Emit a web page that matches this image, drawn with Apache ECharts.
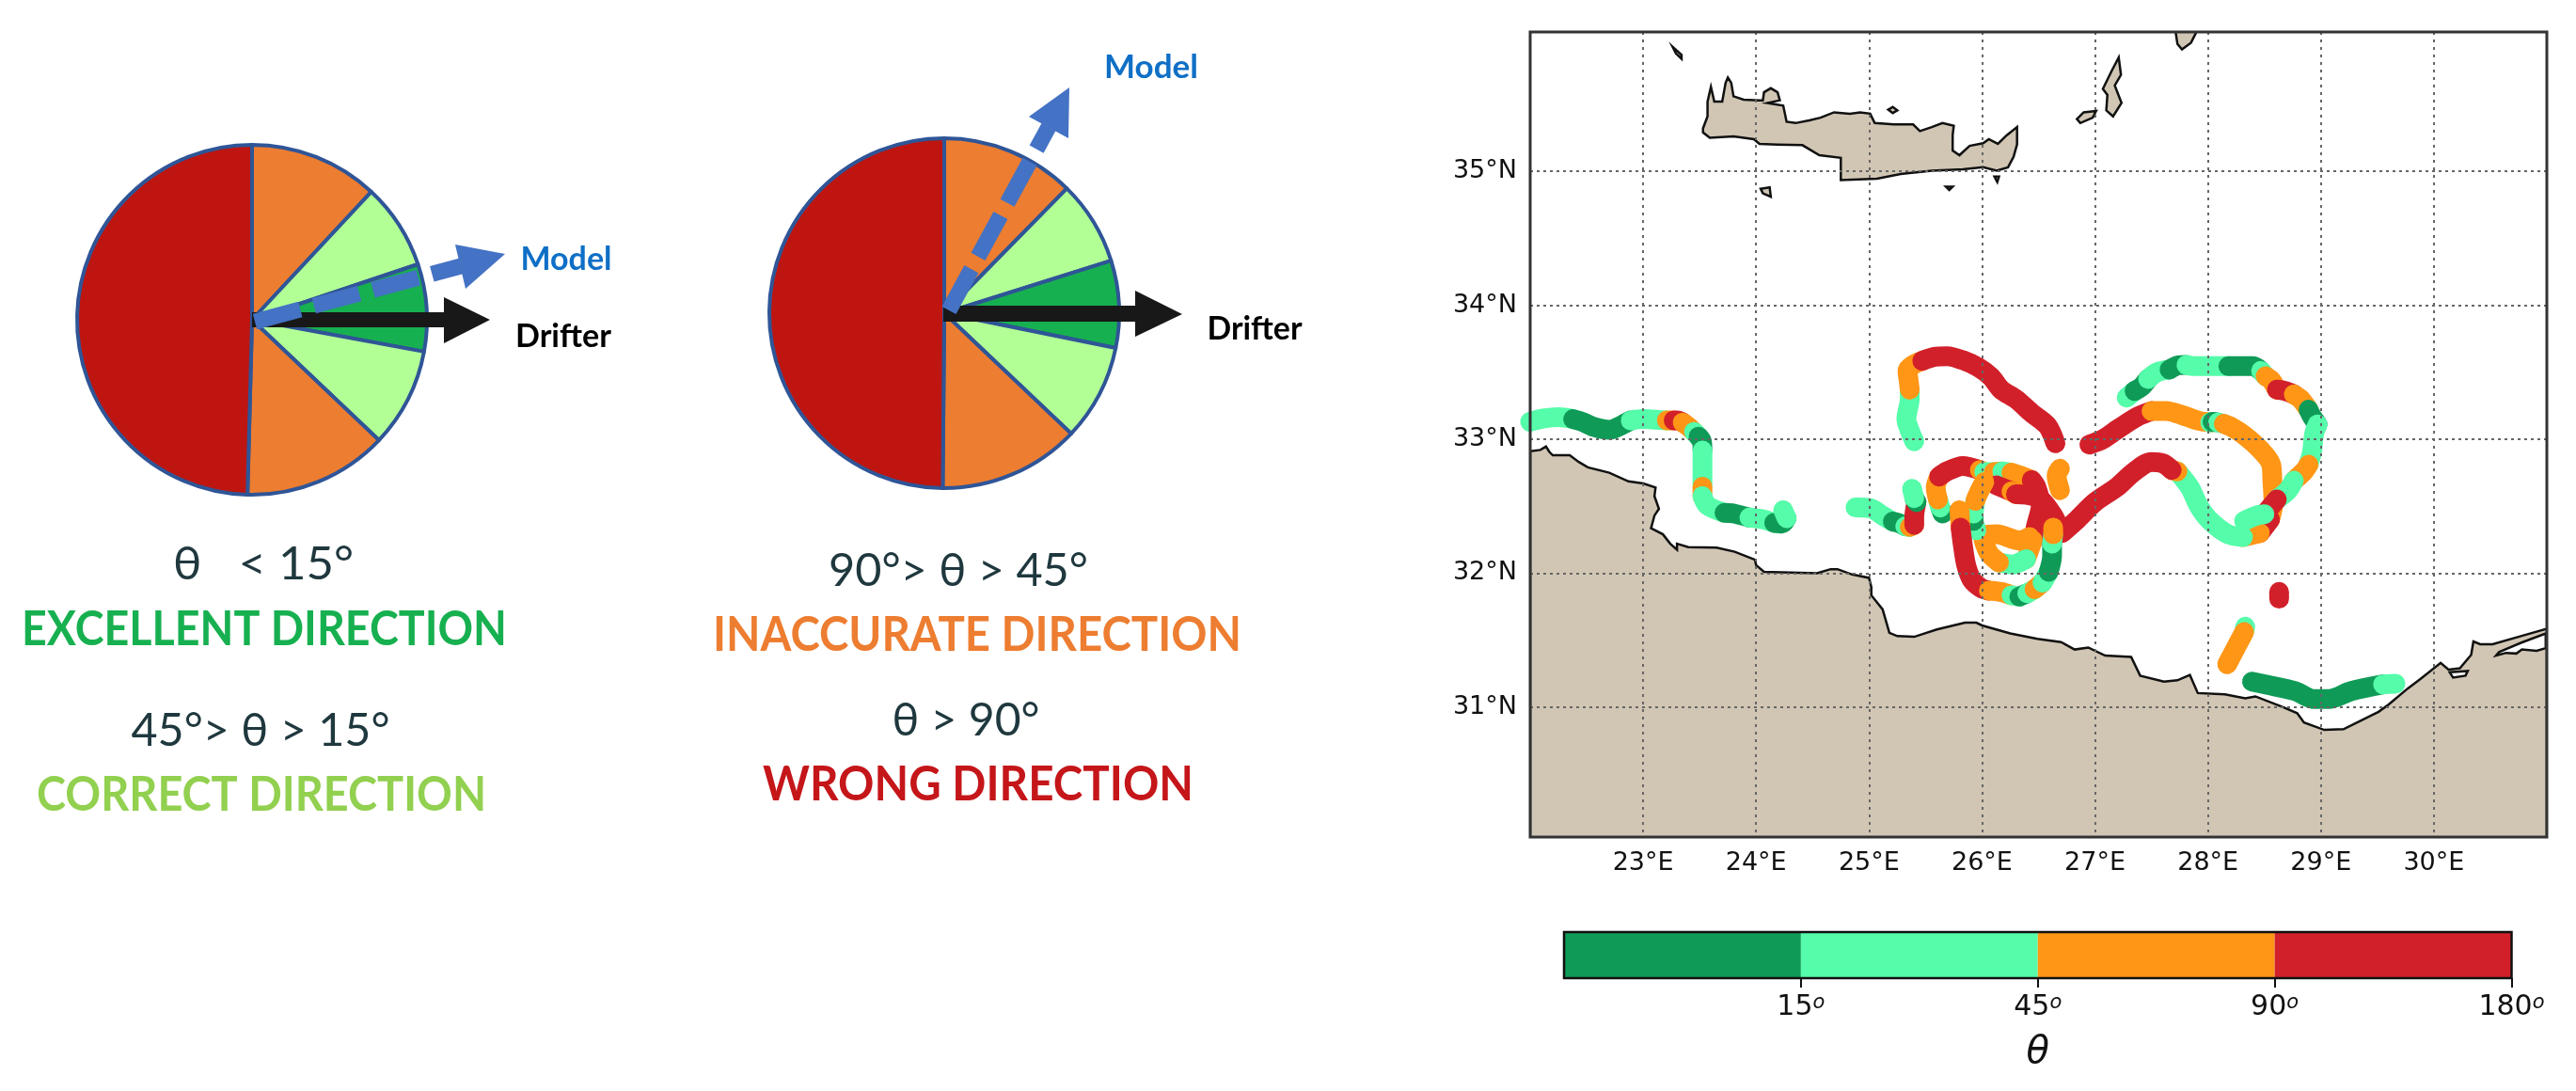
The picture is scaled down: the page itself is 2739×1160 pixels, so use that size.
<!DOCTYPE html>
<html>
<head>
<meta charset="utf-8">
<title>Drifter vs model direction</title>
<script src="https://cdn.jsdelivr.net/npm/echarts@6/dist/echarts.min.js"></script>
<style>
  html, body { margin: 0; background: #fff; }
  #main { width: 2739px; height: 1160px; }
</style>
</head>
<body>
<div id="main"></div>
<script>
// direction classes, same order as the colour bar
const G = 0, M = 1, O = 2, R = 3;
const binColors = ['#0F9B57', '#55FCAA', '#FF9616', '#D2202A'];
const binTicks = ['15', '45', '90', '180'];
const binWidths = [1, 1, 1, 1];

// map ticks
const lonTicks = [23, 24, 25, 26, 27, 28, 29, 30];
const latTicks = [31, 32, 33, 34, 35];

// pie slices (degrees, clockwise from north)
const sliceColors = ['#ED7D31', '#B2FF96', '#17B050', '#B2FF96', '#ED7D31', '#BE1510'];
const pieLeft = [43, 28.5, 29, 33, 48, 178.5];
const pieRight = [44.5, 28, 29, 32, 47, 179.5];

// coast lines, lon / lat
const africa = [[22,32.91],[22.09,32.92],[22.14,32.945],[22.17,32.905],[22.2,32.88],[22.35,32.88],[22.43,32.83],[22.51,32.79],[22.7,32.75],[22.87,32.685],[23,32.67],[23.11,32.64],[23.1,32.575],[23.14,32.48],[23.1,32.43],[23.07,32.335],[23.175,32.29],[23.24,32.22],[23.3,32.175],[23.3,32.22],[23.4,32.195],[23.65,32.19],[23.81,32.16],[23.99,32.1],[24,32.06],[24.07,32.01],[24.54,32],[24.66,32.03],[24.72,32.03],[24.85,31.99],[25,31.965],[25.02,31.895],[25.02,31.835],[25.12,31.73],[25.18,31.555],[25.25,31.53],[25.4,31.525],[25.6,31.58],[25.85,31.63],[25.95,31.63],[26,31.61],[26.25,31.55],[26.49,31.51],[26.7,31.485],[26.82,31.43],[26.94,31.445],[27.09,31.385],[27.32,31.375],[27.4,31.235],[27.61,31.19],[27.73,31.2],[27.84,31.24],[27.91,31.105],[28.15,31.095],[28.33,31.065],[28.42,31.08],[28.665,31],[28.79,30.955],[28.85,30.885],[29.03,30.83],[29.2,30.835],[29.51,30.965],[29.6,31.02],[29.77,31.14],[29.88,31.21],[30.06,31.33],[30.13,31.28],[30.23,31.29],[30.33,31.39],[30.35,31.49],[30.41,31.47],[30.52,31.47],[30.77,31.53],[31,31.585],[31,30],[22,30]];
const lagoon = [[30.575,31.41],[30.77,31.48],[30.99,31.55],[30.99,31.44],[30.91,31.42],[30.78,31.43],[30.73,31.4],[30.64,31.405],[30.55,31.385]];
const lake = [[30.14,31.26],[30.3,31.27],[30.28,31.235],[30.17,31.22]];
const crete = [[23.53,35.32],[23.57,35.41],[23.57,35.52],[23.6,35.63],[23.63,35.52],[23.7,35.52],[23.73,35.66],[23.75,35.7],[23.78,35.66],[23.8,35.56],[23.89,35.535],[24.03,35.53],[24.06,35.53],[24.07,35.59],[24.13,35.62],[24.19,35.59],[24.21,35.53],[24.1,35.51],[24.24,35.49],[24.27,35.37],[24.35,35.36],[24.47,35.38],[24.57,35.4],[24.69,35.44],[24.83,35.43],[24.92,35.44],[25.01,35.43],[25.05,35.36],[25.22,35.35],[25.39,35.35],[25.45,35.3],[25.555,35.33],[25.65,35.36],[25.75,35.34],[25.74,35.27],[25.74,35.155],[25.8,35.12],[25.89,35.19],[26.01,35.21],[26.06,35.24],[26.14,35.205],[26.22,35.27],[26.31,35.33],[26.31,35.2],[26.28,35.11],[26.23,35.03],[26.13,35.005],[26.01,35.03],[25.83,35.015],[25.555,35.005],[25.28,34.98],[25.07,34.945],[24.75,34.935],[24.75,35.1],[24.56,35.12],[24.41,35.195],[24.19,35.2],[24.03,35.205],[23.98,35.24],[23.8,35.26],[23.59,35.25],[23.53,35.29]];
const karpathos = [[27.21,35.85],[27.23,35.72],[27.175,35.64],[27.235,35.51],[27.16,35.41],[27.1,35.455],[27.11,35.57],[27.07,35.615],[27.145,35.745]];
const kasos = [[27.01,35.45],[26.98,35.4],[26.87,35.36],[26.84,35.39],[26.9,35.44]];
const rhodes = [[27.71,36.06],[27.91,36.06],[27.85,35.96],[27.77,35.91],[27.73,35.95]];
const antikythera = [[23.26,35.93],[23.34,35.87],[23.34,35.84],[23.29,35.88]];
const dia = [[25.17,35.46],[25.21,35.48],[25.25,35.455],[25.21,35.435]];
const gavdos = [[24.04,34.87],[24.12,34.88],[24.13,34.81],[24.06,34.835]];
const islet1 = [[25.68,34.885],[25.74,34.885],[25.71,34.86]];
const islet2 = [[26.11,34.96],[26.15,34.96],[26.135,34.92]];

// drifter tracks: lon, lat, direction class
const trackD = [[26.95,32.96,R],[27.07,33,R],[27.21,33.08,R],[27.38,33.17,R],[27.5,33.21,R],[27.63,33.21,O],[27.77,33.18,O],[27.91,33.14,O],[28.02,33.125,O],[28.04,33.13,M],[28.09,33.125,G],[28.14,33.115,M],[28.21,33.09,O],[28.32,33.03,O],[28.46,32.925,O],[28.56,32.81,O],[28.57,32.69,O],[28.58,32.53,O],[28.55,32.4,O],[28.46,32.3,R],[28.31,32.27,O],[28.18,32.29,M],[28.02,32.39,M],[27.92,32.5,M],[27.84,32.64,M],[27.73,32.76,M],[27.68,32.77,O],[27.6,32.82,R],[27.5,32.83,R],[27.35,32.76,R],[27.19,32.64,R],[27,32.53,R],[26.83,32.39,R],[26.71,32.3,R]];
const trackE = [[27.28,33.31,M],[27.35,33.36,M],[27.41,33.39,G],[27.47,33.45,G],[27.55,33.5,M],[27.66,33.52,M],[27.73,33.55,G],[27.81,33.555,G],[27.88,33.545,M],[28.02,33.545,M],[28.18,33.545,M],[28.26,33.545,G],[28.4,33.545,G],[28.47,33.51,G],[28.51,33.47,M],[28.56,33.44,O],[28.61,33.37,O],[28.68,33.36,R],[28.76,33.335,R],[28.82,33.3,O],[28.89,33.22,O],[28.92,33.17,G],[28.97,33.11,G],[28.94,33.04,M],[28.92,32.9,M],[28.89,32.81,M],[28.85,32.76,O],[28.76,32.69,O],[28.71,32.62,M],[28.61,32.55,M],[28.5,32.44,R],[28.43,32.43,M],[28.32,32.39,M]];
const trackA = [[22,33.13,M],[22.12,33.155,M],[22.25,33.165,M],[22.38,33.15,M],[22.46,33.13,G],[22.57,33.09,G],[22.7,33.07,G],[22.81,33.105,G],[22.89,33.14,G],[23,33.15,M],[23.11,33.145,M],[23.21,33.14,M],[23.27,33.14,O],[23.3,33.14,R],[23.35,33.125,R],[23.4,33.095,O],[23.45,33.055,O],[23.49,33.02,M],[23.52,32.985,G],[23.525,32.915,G],[23.525,32.88,M],[23.525,32.785,M],[23.525,32.645,M],[23.525,32.575,O],[23.57,32.505,M],[23.72,32.45,M],[23.8,32.445,G],[23.94,32.415,G],[24.07,32.4,M],[24.16,32.375,M],[24.23,32.37,G],[24.27,32.41,G],[24.24,32.47,M]];
const trackB = [[24.88,32.49,M],[25.01,32.485,M],[25.12,32.43,M],[25.21,32.385,M],[25.26,32.375,G],[25.32,32.35,G],[25.36,32.345,M],[25.4,32.36,O],[25.4,32.42,R],[25.42,32.53,R],[25.4,32.56,G],[25.38,32.63,M]];
const trackC = [[25.4,32.985,M],[25.36,33.065,M],[25.33,33.15,M],[25.36,33.3,M],[25.36,33.37,M],[25.35,33.44,O],[25.34,33.51,O],[25.4,33.56,O],[25.47,33.585,O],[25.58,33.615,R],[25.69,33.62,R],[25.83,33.59,R],[25.97,33.535,R],[26.08,33.465,R],[26.17,33.37,R],[26.3,33.3,R],[26.44,33.195,R],[26.58,33.1,R],[26.65,32.97,R]];
const trackG = [[26.69,32.78,R],[26.66,32.73,O],[26.69,32.62,O]];
const trackK = [[26.13,32.655,R],[26.26,32.61,R],[26.3,32.59,O],[26.4,32.585,R],[26.52,32.55,R],[26.63,32.43,R],[26.69,32.32,R]];
const trackH = [[25.65,32.445,M],[25.63,32.49,G],[25.61,32.55,M],[25.59,32.64,O],[25.62,32.72,O],[25.69,32.76,R],[25.83,32.8,R],[25.98,32.77,R],[26.02,32.755,O],[26.105,32.755,M],[26.18,32.76,O],[26.26,32.75,M],[26.35,32.725,O],[26.44,32.695,O],[26.48,32.645,R],[26.52,32.505,R],[26.48,32.36,R],[26.45,32.245,R],[26.39,32.105,O],[26.27,32.065,M],[26.15,32.08,M],[26.06,32.15,O],[26.01,32.27,O],[26.13,32.29,O],[26.33,32.245,O],[26.42,32.27,O]];
const trackL = [[25.95,32.32,M],[25.925,32.39,M],[25.925,32.445,G],[25.94,32.54,M],[25.97,32.6,O],[26.02,32.68,O]];
const trackM = [[25.8,32.47,M],[25.81,32.34,O],[25.83,32.21,R],[25.86,32.06,R],[25.91,31.95,R],[25.99,31.89,R],[26.06,31.87,R],[26.17,31.86,O],[26.26,31.835,O],[26.33,31.825,M],[26.4,31.85,G],[26.465,31.88,M],[26.535,31.93,O],[26.59,32.01,M],[26.62,32.13,G],[26.62,32.22,G],[26.63,32.29,M],[26.63,32.34,O]];
const trackS = [[28.63,31.86,R],[28.63,31.81,R]];
const trackN = [[28.33,31.6,G],[28.32,31.56,M],[28.27,31.48,O],[28.17,31.32,O]];
const trackP = [[28.39,31.19,M],[28.53,31.165,G],[28.77,31.12,G],[28.94,31.06,G],[29.07,31.06,G],[29.27,31.12,G],[29.55,31.17,G],[29.66,31.175,M]];
const tracks = [trackD, trackE, trackA, trackB, trackC, trackG, trackH, trackK, trackL, trackM, trackS, trackN, trackP];

const landShapes = [africa, crete, karpathos, kasos, rhodes, antikythera, dia, gavdos, islet1, islet2];
const holeShapes = [lagoon, lake];

// split a track in runs of one colour, each run starts on the last point of the one before
function trackRuns(track) {
    const runs = [];
    let run = null;
    track.forEach((p, i) => {
        if (!run || run.bin !== p[2]) {
            run = { bin: p[2], points: i ? [track[i - 1].slice(0, 2)] : [] };
            runs.push(run);
        }
        run.points.push(p.slice(0, 2));
    });
    return runs;
}

function polygonSeries(shapes, fill, z) {
    return {
        type: 'custom', xAxisIndex: 0, yAxisIndex: 0, z, silent: true, clip: true,
        data: shapes.map((s, i) => [i]),
        renderItem: (params, api) => ({
            type: 'polygon',
            shape: { points: shapes[api.value(0)].map(p => api.coord(p)) },
            style: { fill, stroke: '#111', lineWidth: 2.5 }
        })
    };
}

function pieSeries(values, center) {
    return {
        type: 'pie', center, radius: 186, startAngle: 90, clockwise: true, silent: true,
        label: { show: false }, labelLine: { show: false },
        data: values.map((value, i) => ({ value, itemStyle: { color: sliceColors[i] } })),
        itemStyle: { borderColor: '#2F5597', borderWidth: 4 }
    };
}

const trackSeries = [];
tracks.forEach(t => trackRuns(t).forEach(run => trackSeries.push({
    type: 'line', xAxisIndex: 0, yAxisIndex: 0, z: 2, silent: true,
    data: run.points, symbol: 'none', showSymbol: false, smooth: 0.3,
    lineStyle: { width: 21, color: binColors[run.bin], cap: 'round', join: 'round' }
})));

const barSeries = binWidths.map((w, i) => ({
    type: 'bar', xAxisIndex: 1, yAxisIndex: 1, stack: 'bins', barWidth: '100%', silent: true,
    data: [w], itemStyle: { color: binColors[i] }
}));

// --- left panel annotations
const measure = document.createElement('canvas').getContext('2d');
function caption(text, cx, cy, width, size, color, weight) {
    const fontFamily = 'Lato';
    measure.font = `${weight} ${size}px ${fontFamily}`;
    return {
        type: 'text', x: cx, y: cy, z: 110, silent: true,
        scaleX: width / measure.measureText(text).width,
        style: { text, fontFamily, fontSize: size, fontWeight: weight, fill: color, align: 'center', verticalAlign: 'middle' }
    };
}
const dark = '#1F383E';
const captions = [
    caption('Model', 602, 276, 97, 34, '#0F6FC6', 'bold'),
    caption('Drifter', 599, 358, 102, 34, '#000', 'bold'),
    caption('Model', 1224, 72, 100, 34, '#0F6FC6', 'bold'),
    caption('Drifter', 1334, 350, 101, 34, '#000', 'bold'),
    caption('θ   < 15°', 280, 601, 192, 48, dark, 'normal'),
    caption('EXCELLENT DIRECTION', 281, 670, 516, 51, '#17B050', 'bold'),
    caption('45°> θ > 15°', 277, 778, 275, 48, dark, 'normal'),
    caption('CORRECT DIRECTION', 278, 846, 478, 51, '#92D050', 'bold'),
    caption('90°> θ > 45°', 1019, 608, 276, 48, dark, 'normal'),
    caption('INACCURATE DIRECTION', 1039, 676, 562, 51, '#ED7D31', 'bold'),
    caption('θ > 90°', 1027, 767, 157, 48, dark, 'normal'),
    caption('WRONG DIRECTION', 1040, 835, 458, 51, '#C5161A', 'bold')
];

function poly(points, fill) {
    return { type: 'polygon', z: 100, silent: true, shape: { points }, style: { fill } };
}
function dashed(x1, y1, x2, y2) {
    return {
        type: 'line', z: 101, silent: true, shape: { x1, y1, x2, y2 },
        style: { stroke: '#4472C4', lineWidth: 17, lineDash: [50, 15] }
    };
}
const arrows = [
    poly([[268, 332], [472, 332], [472, 316], [521, 340], [472, 365], [472, 348], [268, 348]], '#181818'),
    dashed(271, 342, 490, 283),
    poly([[484, 260], [537, 270], [495, 307]], '#4472C4'),
    poly([[1003, 325], [1207, 325], [1207, 309], [1257, 334], [1207, 358], [1207, 342], [1003, 342]], '#181818'),
    dashed(1009, 330, 1115, 135),
    poly([[1094, 124], [1137, 93], [1136, 147]], '#4472C4')
];
const frames = [
    { type: 'rect', z: 90, silent: true, shape: { x: 1627, y: 34, width: 1081, height: 856 }, style: { fill: 'transparent', stroke: '#333', lineWidth: 3 } },
    { type: 'rect', z: 90, silent: true, shape: { x: 1663, y: 991, width: 1007.5, height: 49 }, style: { fill: 'transparent', stroke: '#111', lineWidth: 2.5 } }
];

const tickFont = { fontFamily: 'DejaVu Sans', fontSize: 27, color: '#111' };

const option = {
    backgroundColor: '#fff',
    animation: false,
    grid: [
        { left: 1627, top: 34, width: 1081, height: 856 },
        { left: 1663, top: 991, width: 1007.5, height: 49 }
    ],
    xAxis: [
        {
            type: 'value', gridIndex: 0, min: 22, max: 31, z: 3,
            axisLine: { show: false },
            axisTick: { show: false, customValues: lonTicks },
            axisLabel: { ...tickFont, margin: 14, customValues: lonTicks, formatter: '{value}°E' },
            splitLine: { show: true, lineStyle: { color: '#666', width: 2, type: [3, 5] } }
        },
        {
            type: 'value', gridIndex: 1, min: 0, max: binWidths.length,
            axisLine: { show: false },
            axisTick: { show: true, length: 10, customValues: binTicks.map((t, i) => i + 1), lineStyle: { color: '#111', width: 2 } },
            axisLabel: {
                margin: 16,
                customValues: binTicks.map((t, i) => i + 1),
                formatter: v => `{a|${binTicks[v - 1]}}{b|o}`,
                rich: {
                    a: { fontFamily: 'DejaVu Sans', fontSize: 30, color: '#111' },
                    b: { fontFamily: 'DejaVu Sans', fontStyle: 'italic', fontSize: 21, color: '#111', verticalAlign: 'top', padding: [0, 0, 10, 0] }
                }
            },
            splitLine: { show: false },
            name: 'θ', nameLocation: 'middle', nameGap: 60,
            nameTextStyle: { fontFamily: 'DejaVu Sans', fontStyle: 'italic', fontSize: 40, color: '#111' }
        }
    ],
    yAxis: [
        {
            type: 'value', gridIndex: 0, min: 30.03, max: 36.04, z: 3,
            axisLine: { show: false },
            axisTick: { show: false, customValues: latTicks },
            axisLabel: { ...tickFont, margin: 14, customValues: latTicks, formatter: '{value}°N' },
            splitLine: { show: true, lineStyle: { color: '#666', width: 2, type: [3, 4] } }
        },
        { type: 'category', gridIndex: 1, data: ['θ'], show: false }
    ],
    series: [
        pieSeries(pieLeft, [268, 340]),
        pieSeries(pieRight, [1004, 333]),
        polygonSeries(landShapes, '#D1C6B4', 1),
        polygonSeries(holeShapes, '#fff', 1),
        ...trackSeries,
        ...barSeries
    ],
    graphic: { elements: [...frames, ...arrows, ...captions] }
};

const chart = echarts.init(document.getElementById('main'));
chart.setOption(option);
</script>
</body>
</html>
